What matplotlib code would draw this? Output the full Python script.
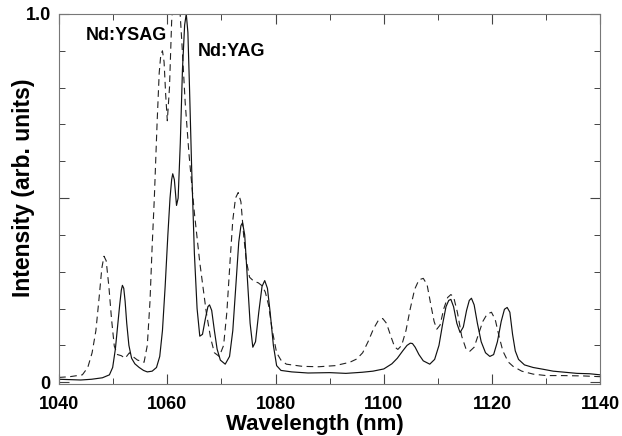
import numpy as np
import matplotlib.pyplot as plt
from matplotlib.ticker import MultipleLocator

plt.rcParams['font.family'] = ['Liberation Sans', 'DejaVu Sans']

# Nd:YAG emission spectrum (solid line)
yag_wl = [1040, 1042, 1044, 1046, 1048, 1049.3, 1049.9, 1050.4, 1050.8, 1051.2,
          1051.5, 1051.7, 1051.95, 1052.2, 1052.5, 1052.9, 1053.4, 1054, 1054.8, 1055.6,
          1056.3, 1057.2, 1058, 1058.6, 1059.1, 1059.6, 1060.1, 1060.5, 1060.8, 1061.0,
          1061.3, 1061.7, 1062.0, 1062.4, 1062.8, 1063.2, 1063.5, 1063.8, 1064.1, 1064.5,
          1065.0, 1065.5, 1066.0, 1066.5, 1067.0, 1067.5, 1067.8, 1068.2, 1068.7, 1069.2,
          1069.8, 1070.7, 1071.5, 1072.1, 1072.7, 1073.2, 1073.6, 1073.9, 1074.3, 1074.8,
          1075.3, 1075.8, 1076.3, 1076.9, 1077.5, 1078, 1078.5, 1079.0, 1079.6, 1080.2,
          1081, 1083, 1086, 1090, 1093, 1096, 1098, 1100, 1101.5, 1102.5,
          1103.5, 1104.3, 1104.9, 1105.3, 1105.8, 1106.5, 1107.3, 1108.5, 1109.4, 1110.2,
          1110.9, 1111.5, 1112.0, 1112.4, 1112.9, 1113.5, 1114.1, 1114.7, 1115.3, 1115.8,
          1116.2, 1116.7, 1117.3, 1118.0, 1118.8, 1119.6, 1120.3, 1121.0, 1121.7, 1122.3,
          1122.8, 1123.3, 1123.8, 1124.3, 1124.9, 1126, 1127.6, 1129.5, 1131.3, 1133.5,
          1135.7, 1138, 1140]
yag_int = [0.008, 0.007, 0.006, 0.008, 0.012, 0.02, 0.04, 0.09, 0.15, 0.21,
           0.25, 0.263, 0.255, 0.22, 0.16, 0.1, 0.065, 0.05, 0.04, 0.032,
           0.028, 0.03, 0.04, 0.07, 0.14, 0.26, 0.4, 0.5, 0.55, 0.566,
           0.55, 0.48, 0.5, 0.65, 0.85, 0.97, 1.0, 0.95, 0.8, 0.58,
           0.35, 0.2, 0.125, 0.13, 0.17, 0.205, 0.21, 0.195, 0.14, 0.09,
           0.06, 0.049, 0.07, 0.14, 0.27, 0.38, 0.425, 0.433, 0.4, 0.28,
           0.16, 0.095, 0.11, 0.19, 0.26, 0.276, 0.255, 0.19, 0.1, 0.045,
           0.032, 0.028, 0.025, 0.026, 0.024, 0.027, 0.03, 0.036, 0.05, 0.065,
           0.085, 0.1, 0.106, 0.105, 0.095, 0.075, 0.058, 0.049, 0.062, 0.1,
           0.16, 0.205, 0.222, 0.225, 0.205, 0.16, 0.135, 0.15, 0.195, 0.222,
           0.228, 0.21, 0.16, 0.11, 0.08, 0.07, 0.075, 0.11, 0.165, 0.198,
           0.203, 0.19, 0.13, 0.085, 0.062, 0.047, 0.04, 0.035, 0.03, 0.027,
           0.024, 0.023, 0.02]

# Nd:YSAG emission spectrum (dashed line)
ysag_wl = [1040, 1042, 1044.3, 1045.3, 1046.1, 1046.8, 1047.4, 1047.9, 1048.3, 1048.7,
           1049.2, 1049.7, 1050.2, 1050.8, 1051.5, 1052.2, 1053, 1053.6, 1054.5, 1055.2,
           1055.7, 1056.3, 1056.8, 1057.2, 1057.6, 1058.1, 1058.5, 1058.8, 1059.1, 1059.4,
           1059.7, 1060.0, 1060.4, 1060.8, 1061.2, 1061.7, 1062.2, 1062.7, 1063.3, 1064,
           1065, 1066, 1067.2, 1068.0, 1068.7, 1069.6, 1070.4, 1071.0, 1071.6, 1072.1,
           1072.6, 1073.1, 1073.6, 1074.1, 1074.6, 1075.2, 1076.0, 1076.8, 1077.5, 1078.1,
           1078.7, 1079.4, 1080.2, 1081, 1082, 1085, 1088, 1091, 1093.7, 1095,
           1096.1, 1097.1, 1098.1, 1099.0, 1099.8, 1100.5, 1101.3, 1102.0, 1102.6, 1103.3,
           1104.1, 1104.9, 1105.7, 1106.5, 1107.3, 1108.0, 1108.7, 1109.3, 1109.8, 1110.4,
           1111.1, 1111.8, 1112.4, 1112.9, 1113.6, 1114.4, 1115.2, 1115.9, 1116.7, 1117.5,
           1118.3, 1119.1, 1119.9, 1120.6, 1121.3, 1122.0, 1123, 1123.9, 1125.5, 1127.6,
           1130, 1133, 1136.9, 1140]
ysag_int = [0.013, 0.015, 0.02, 0.04, 0.08, 0.14, 0.23, 0.31, 0.342, 0.33,
            0.26, 0.17, 0.098, 0.075, 0.072, 0.065, 0.08, 0.07, 0.06, 0.057,
            0.054, 0.1, 0.22, 0.37, 0.5, 0.7, 0.84, 0.89, 0.90, 0.87,
            0.78, 0.71, 0.8, 0.98, 1.06, 1.08, 1.04, 0.92, 0.76, 0.62,
            0.46, 0.325, 0.19, 0.12, 0.08, 0.07, 0.1, 0.19, 0.33, 0.44,
            0.5, 0.515, 0.49, 0.4, 0.33, 0.285, 0.274, 0.27, 0.262, 0.245,
            0.21, 0.14, 0.08, 0.06, 0.049, 0.043, 0.042, 0.045, 0.054, 0.063,
            0.08, 0.11, 0.145, 0.168, 0.173, 0.16, 0.125, 0.096, 0.089, 0.1,
            0.14, 0.2, 0.252, 0.278, 0.282, 0.265, 0.21, 0.165, 0.144, 0.155,
            0.2, 0.23, 0.238, 0.232, 0.19, 0.125, 0.09, 0.084, 0.095, 0.13,
            0.165, 0.185, 0.19, 0.17, 0.125, 0.085, 0.055, 0.043, 0.03, 0.022,
            0.018, 0.018, 0.017, 0.015]

fig = plt.figure(figsize=(6.22, 4.36), dpi=100)
ax = fig.add_axes([0.095, 0.12, 0.87, 0.848])

ax.plot(ysag_wl, ysag_int, color='#222222', lw=0.8, ls=(0, (6, 4)))
ax.plot(yag_wl, yag_int, color='#111111', lw=0.85)

ax.set_xlim(1040, 1140)
ax.set_ylim(-0.004, 1.0)

ax.xaxis.set_major_locator(MultipleLocator(20))
ax.xaxis.set_minor_locator(MultipleLocator(10))
ax.set_yticks([0, 0.5, 1.0])
ax.set_yticklabels(['0', '', '1.0'])
ax.yaxis.set_minor_locator(MultipleLocator(0.1))
ax.tick_params(which='both', direction='in', top=True, right=True, color='#444444')
ax.tick_params(which='major', length=7, width=0.8, labelsize=13)
ax.tick_params(axis='x', which='major', pad=9)
ax.tick_params(axis='y', which='major', pad=6)
ax.tick_params(which='minor', length=4, width=0.7)
for lab in ax.get_xticklabels() + ax.get_yticklabels():
    lab.set_fontweight('bold')

for sp in ax.spines.values():
    sp.set_color('#777777')
    sp.set_linewidth(0.8)

fig.text(0.507, 0.002, 'Wavelength (nm)', fontsize=16, fontweight='bold',
         ha='center', va='bottom')
fig.text(0.037, 0.569, 'Intensity (arb. units)', fontsize=16.5, fontweight='bold',
         ha='center', va='center', rotation=90)

ax.text(1045, 0.93, 'Nd:YSAG', fontsize=13, fontweight='bold')
ax.text(1065.6, 0.885, 'Nd:YAG', fontsize=13, fontweight='bold')

fig.savefig('out.png', dpi=100)
